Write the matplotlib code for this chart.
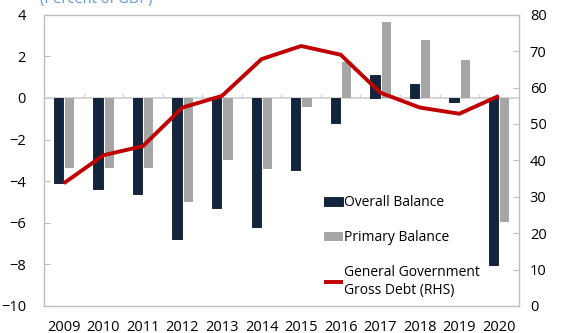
import numpy as np
import matplotlib.pyplot as plt

plt.rcParams['font.family'] = ['Open Sans', 'DejaVu Sans']

# Datos
anios = ['2009', '2010', '2011', '2012', '2013', '2014', '2015', '2016', '2017', '2018', '2019', '2020']
balance_total = [-4.1, -4.4, -4.6, -6.8, -5.3, -6.2, -3.45, -1.2, 1.12, 0.66, -0.21, -8.03]
balance_primario = [-3.35, -3.35, -3.35, -4.98, -3.0, -3.43, -0.42, 1.73, 3.65, 2.79, 1.81, -5.98]
deuda_bruta = [33.7, 41.4, 43.9, 54.5, 57.7, 67.8, 71.4, 69.0, 58.6, 54.5, 52.8, 57.7]

azul = '#13243e'
gris = '#a6a6a6'
rojo = '#c00000'
gris_eje = '#bfbfbf'

x = np.arange(len(anios))

fig = plt.figure(figsize=(5.73, 3.33), dpi=100)
ax = fig.add_axes([0.0768, 0.0811, 0.9052 - 0.0768, 0.9559 - 0.0811])

# Barras (eje izquierdo)
b1 = ax.bar(x - 0.135, balance_total, width=0.235, color=azul, edgecolor='#0a1422',
            linewidth=0.6, label='Overall Balance', zorder=3)
b2 = ax.bar(x + 0.15, balance_primario, width=0.235, color=gris,
            label='Primary Balance', zorder=3)

ax.set_xlim(-0.5, len(anios) - 0.5)
ax.set_ylim(-10, 4)
ax.set_yticks(np.arange(-10, 5, 2))
ax.set_xticks(x)
ax.set_xticklabels(anios)

# línea del cero con marcas de categoría
ax.axhline(0, color='#d0d0d0', lw=1.2, zorder=2)
ax.vlines(np.arange(len(anios) + 1) - 0.5, 0, 0.2, color='#d0d0d0', lw=1, zorder=2)

for s in ax.spines.values():
    s.set_color(gris_eje)
    s.set_linewidth(1)
ax.tick_params(axis='y', direction='in', length=4, color=gris_eje, labelsize=10.5, pad=13)
ax.tick_params(axis='x', length=0, labelsize=10.5, pad=10)

# Deuda (eje derecho)
ax2 = ax.twinx()
l1, = ax2.plot(x, deuda_bruta, color=rojo, lw=2.8, solid_capstyle='butt',
               label='General Government\nGross Debt (RHS)', zorder=4)
ax2.set_ylim(0, 80)
ax2.set_yticks(np.arange(0, 81, 10))
for s in ax2.spines.values():
    s.set_visible(False)
ax2.tick_params(axis='y', direction='in', length=4, color=gris_eje, labelsize=10.5, pad=8)

leg = ax2.legend(handles=[b1, b2, l1], loc='upper left', bbox_to_anchor=(0.579, 0.40),
                 frameon=False, fontsize=10, handlelength=1.35, handleheight=0.6,
                 handletextpad=0.05, labelspacing=1.45, borderaxespad=0)

fig.text(40 / 573, 1 - 3 / 333, '(Percent of GDP)', color='#5b9bd5', fontsize=10.5,
         va='baseline', ha='left')

fig.savefig('out.png', dpi=100)
